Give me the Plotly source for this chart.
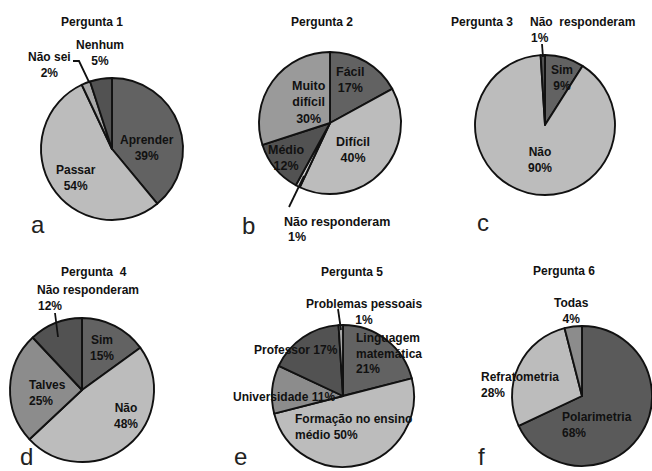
import plotly.graph_objects as go

W, H = 652, 471

# ---------------- data ----------------
titles = ["Pergunta 1", "Pergunta 2", "Pergunta 3", "Pergunta  4", "Pergunta 5", "Pergunta 6"]
panel_letters = ["a", "b", "c", "d", "e", "f"]

p1_labels = ["Aprender", "Passar", "Não sei", "Nenhum"]
p1_values = [39, 54, 2, 5]

p2_labels = ["Fácil", "Difícil", "Não responderam", "Médio", "Muito difícil"]
p2_values = [17, 40, 1, 12, 30]

p3_labels = ["Sim", "Não", "Não responderam"]
p3_values = [9, 90, 1]

p4_labels = ["Sim", "Não", "Talves", "Não responderam"]
p4_values = [15, 48, 25, 12]

p5_labels = ["Linguagem matemática", "Formação no ensino médio", "Universidade", "Professor", "Problemas pessoais"]
p5_values = [21, 50, 11, 17, 1]

p6_labels = ["Polarimetria", "Refratometria", "Todas"]
p6_values = [68, 28, 4]

all_labels = [p1_labels, p2_labels, p3_labels, p4_labels, p5_labels, p6_labels]
all_values = [p1_values, p2_values, p3_values, p4_values, p5_values, p6_values]

# ---------------- styling / layout ----------------
DK1, DK2, LT, MD, LM = "#626262", "#525252", "#bcbcbc", "#8c8c8c", "#a8a8a8"
colors = [
    [DK1, LT, LM, DK2],
    [DK1, LT, "#cfcfcf", DK2, "#9a9a9a"],
    [DK1, LT, DK2],
    [DK1, LT, MD, DK2],
    [DK1, LT, MD, DK2, LM],
    ["#5a5a5a", LT, MD],
]
# pie centre (px) and radius (px)
pies = [(112, 149, 71), (330, 123, 71), (545, 125, 70),
        (82, 390, 72), (343, 396, 71), (582, 396, 70)]
title_pos = [(92, 22), (322, 22), (482, 22), (94, 272), (352, 272), (564, 271)]
# bottom edge of letter text boxes
letter_pos = [(38, 239), (248, 240), (483, 237), (27, 471), (241, 471), (482, 471)]

def fx(x):
    return x / W

def fy(y):
    return 1 - y / H

fig = go.Figure()
for i, (cx, cy, r) in enumerate(pies):
    fig.add_trace(go.Pie(
        labels=all_labels[i], values=all_values[i], sort=False,
        direction="clockwise", rotation=0, textinfo="none", hoverinfo="label+percent",
        marker=dict(colors=colors[i], line=dict(color="#111111", width=1.9)),
        domain=dict(x=[max(0, fx(cx - r)), min(1, fx(cx + r))],
                    y=[max(0, fy(cy + r)), min(1, fy(cy - r))]),
        showlegend=False,
    ))

BOLD = dict(family="Liberation Sans, Arial, sans-serif", size=12, color="#111111", weight="bold")
annotations = []

def ann(text, x, y, xanchor="center", align="center", size=12):
    f = dict(BOLD)
    f["size"] = size
    annotations.append(dict(text=text, x=fx(x), y=fy(y), xref="paper", yref="paper",
                            showarrow=False, xanchor=xanchor, yanchor="middle",
                            align=align, font=f))

def lab(p, k, sep="<br>"):
    return f"{all_labels[p][k]}{sep}{all_values[p][k]}%"

for i, (x, y) in enumerate(title_pos):
    ann(titles[i], x, y)
for i, (x, y) in enumerate(letter_pos):
    annotations.append(dict(text=panel_letters[i], x=fx(x), y=fy(y), xref="paper", yref="paper",
                            showarrow=False, xanchor="center", yanchor="bottom", borderpad=0,
                            font=dict(family="Liberation Sans, Arial, sans-serif", size=24, color="#222222")))

# Pergunta 1
ann(lab(0, 0), 147, 148)
ann(lab(0, 1), 76, 178)
ann(lab(0, 2), 49, 65)
ann(lab(0, 3), 100, 53)
# Pergunta 2
ann(lab(1, 0), 350, 80, size=12.5)
ann(all_labels[1][4].replace(" ", "<br>") + f"<br>{all_values[1][4]}%", 309, 103, size=12.5)
ann(lab(1, 1), 353, 150, size=12.5)
ann(lab(1, 3), 286, 158, size=12.5)
ann(all_labels[1][2], 337, 222, size=12.5)
ann(f"{all_values[1][2]}%", 297, 237, size=12.5)
# Pergunta 3
ann(lab(2, 0), 562, 78)
ann(lab(2, 1), 540, 160)
ann(all_labels[2][2].replace(" ", "\u00a0\u00a0"), 582, 22)
ann(f"{all_values[2][2]}%", 540, 38)
# Pergunta 4
ann(all_labels[3][3], 88, 290)
ann(f"{all_values[3][3]}%", 50, 306)
ann(lab(3, 0), 102, 348)
ann(lab(3, 2), 27, 393, xanchor="left", align="left")
ann(lab(3, 1), 126, 416)
# Pergunta 5
ann(lab(4, 4), 364, 312)
ann("Linguagem<br>matemática" + f"<br>{all_values[4][0]}%", 354, 353, xanchor="left", align="left")
ann(lab(4, 3, " "), 296, 350)
ann(lab(4, 2, " "), 284, 397)
ann("Formação no ensino<br>médio" + f" {all_values[4][1]}%", 293, 427, xanchor="left", align="left")
# Pergunta 6
ann(lab(5, 2), 571, 311)
ann(lab(5, 1), 479, 385, xanchor="left", align="left")
ann(lab(5, 0), 560, 425, xanchor="left", align="left")

def leader(pts):
    path = "M " + " L ".join(f"{fx(x)} {fy(y)}" for x, y in pts)
    return dict(type="path", xref="paper", yref="paper", path=path,
                line=dict(color="#111111", width=1.8))

shapes = [
    leader([(73, 61), (79, 61), (89, 82)]),
    leader([(289, 207), (304, 176)]),
    leader([(542, 44), (543, 57)]),
    leader([(55, 313), (58, 337)]),
    leader([(338, 309), (341, 330)]),
]

fig.update_layout(width=W, height=H, margin=dict(l=0, r=0, t=0, b=0),
                  paper_bgcolor="white", plot_bgcolor="white",
                  annotations=annotations, shapes=shapes, showlegend=False)
fig.write_html("out.html", config={"displayModeBar": False},
               post_script="document.body.style.margin='0';document.body.style.overflow='hidden';")
